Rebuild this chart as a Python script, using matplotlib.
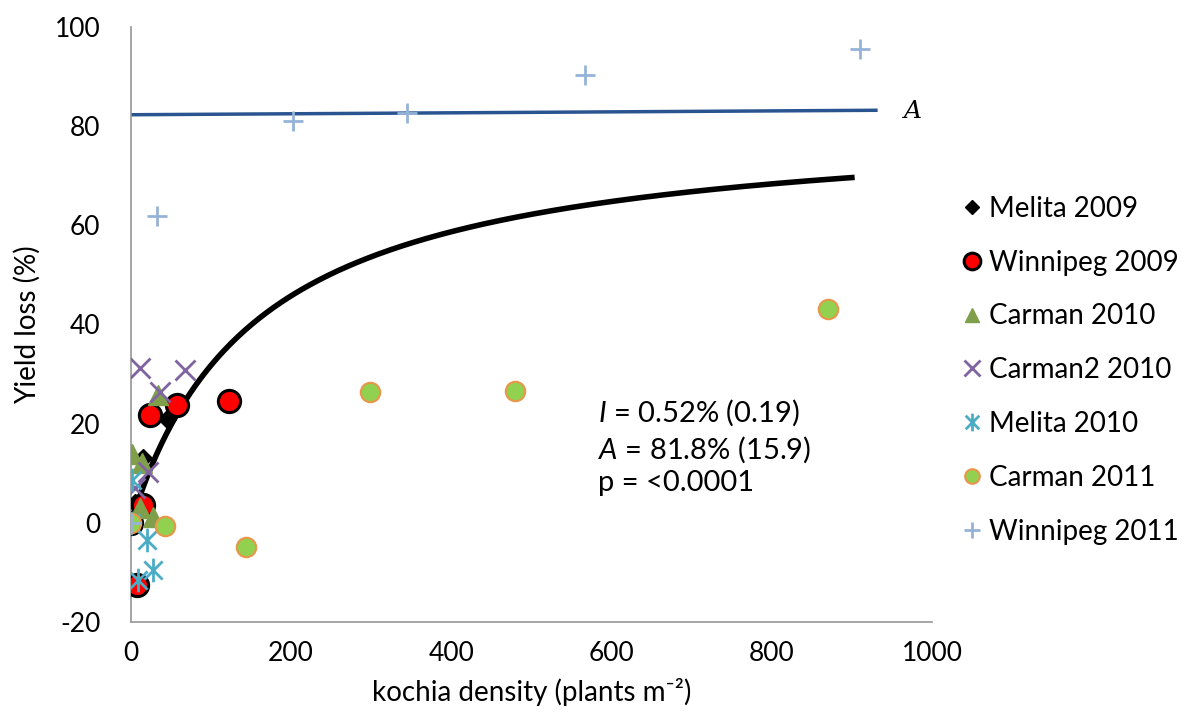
import numpy as np
import matplotlib.pyplot as plt
from matplotlib.path import Path

plt.rcParams['font.family'] = ['Lato', 'DejaVu Sans']
plt.rcParams['axes.unicode_minus'] = False
plt.rcParams['mathtext.fontset'] = 'custom'
plt.rcParams['mathtext.rm'] = 'Lato'
plt.rcParams['mathtext.it'] = 'Lato:italic'

# observed yield loss by site-year (density plants m-2, yield loss %)
melita09_x = [0, 5, 15, 45]
melita09_y = [0, 4, 13, 21]
winnipeg09_x = [0, 7, 15, 24, 57, 122]
winnipeg09_y = [0, -12.5, 3.6, 21.8, 23.8, 24.6]
carman10_x = [1, 14, 34, 11, 28]
carman10_y = [13.8, 12.0, 25.8, 3.0, 1.2]
carman2_10_x = [11, 67, 36, 21, 5]
carman2_10_y = [31.3, 30.8, 26.4, 10.3, 7.0]
melita10_x = [1, 0, 20, 28, 9]
melita10_y = [8.7, 0, -3.4, -9.5, -11.5]
carman11_x = [0, 42, 144, 299, 479, 870]
carman11_y = [0, -0.7, -4.8, 26.4, 26.6, 43.1]
winnipeg11_x = [0, 32, 202, 344, 567, 910]
winnipeg11_y = [0, 61.9, 81.0, 82.7, 90.3, 95.6]

# fitted rectangular hyperbola parameters
I_fit = 0.52
A_fit = 81.8
a_line_x = [0, 930]
a_line_y = [82.3, 83.2]

asterisk = Path([(-1, -1), (1, 1), (-1, 1), (1, -1), (0, -1.3), (0, 1.3)],
                [Path.MOVETO, Path.LINETO, Path.MOVETO, Path.LINETO, Path.MOVETO, Path.LINETO])

fig = plt.figure(figsize=(11.93, 7.27), dpi=100)
ax = fig.add_axes([0.1098, 0.1444, 0.6714, 0.8185])

dens = np.linspace(8, 900, 300)
ax.plot(dens, I_fit * dens / (1 + I_fit * dens / A_fit), color='black', lw=4, zorder=2)
ax.plot(a_line_x, a_line_y, color='#2A5490', lw=2.5, zorder=2)
ax.text(965, 83, 'A', fontsize=18, style='italic', family='DejaVu Serif', va='center', ha='left')

ax.plot(melita09_x, melita09_y, 'D', color='black', ms=9, ls='none', zorder=3, label='Melita 2009')
ax.plot(winnipeg09_x, winnipeg09_y, 'o', mfc='#FF0000', mec='black', mew=2.2, ms=16, ls='none',
        zorder=3, label='Winnipeg 2009')
ax.plot(carman10_x, carman10_y, '^', color='#7F9F4A', ms=14, ls='none', zorder=3, label='Carman 2010')
ax.plot(carman2_10_x, carman2_10_y, 'x', color='#8064A2', ms=15, mew=2, ls='none', zorder=3,
        label='Carman2 2010')
ax.plot(melita10_x, melita10_y, marker=asterisk, color='#4BACC6', ms=17, mew=2, ls='none', zorder=3,
        label='Melita 2010')
ax.plot(carman11_x, carman11_y, 'o', mfc='#92D050', mec='#E9964A', mew=1.5, ms=14, ls='none',
        zorder=3, label='Carman 2011')
ax.plot(winnipeg11_x, winnipeg11_y, '+', color='#95B3D7', ms=15, mew=2, ls='none', zorder=3,
        label='Winnipeg 2011')

ax.text(583, 15.3, '$I$ = 0.52% (0.19)\n$A$ = 81.8% (15.9)\np = <0.0001',
        fontsize=21, va='center', ha='left', linespacing=1.25)

ax.set_xlim(0, 1000)
ax.set_ylim(-20, 100)
ax.set_xticks([0, 200, 400, 600, 800, 1000])
ax.set_yticks([-20, 0, 20, 40, 60, 80, 100])
ax.tick_params(length=0, labelsize=19, pad=14)
ax.tick_params(axis='y', pad=22)
for side in ['top', 'right']:
    ax.spines[side].set_visible(False)
for side in ['left', 'bottom']:
    ax.spines[side].set_color('#969696')
    ax.spines[side].set_linewidth(1.2)

ax.set_xlabel('kochia density (plants m⁻²)', fontsize=20, labelpad=8)
ax.set_ylabel('Yield loss (%)', fontsize=20, labelpad=10)

handles, labels = ax.get_legend_handles_labels()
fig.legend(handles, labels, loc='upper left', bbox_to_anchor=(0.787, 0.765), frameon=False,
           fontsize=20, markerscale=0.75, handlelength=0.6, handletextpad=0.3, labelspacing=1.0)

fig.savefig('out.png', dpi=100)
